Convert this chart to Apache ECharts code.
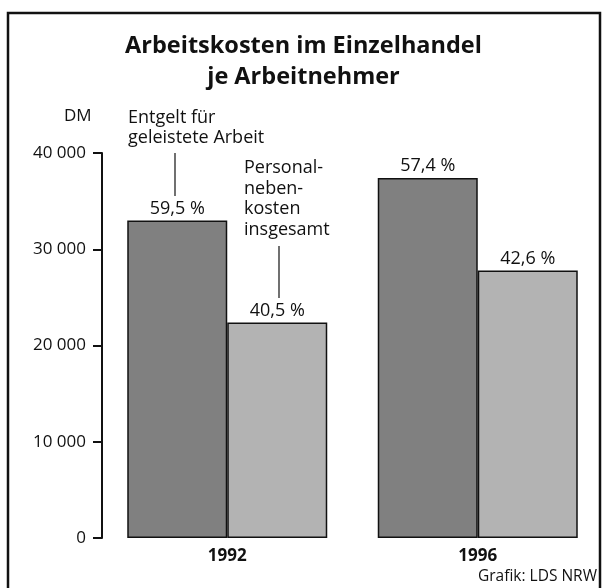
<!DOCTYPE html>
<html>
<head>
<meta charset="utf-8">
<script src="https://cdn.jsdelivr.net/npm/echarts@6/dist/echarts.min.js"></script>
<style>
  html, body { margin: 0; padding: 0; background: #fff; }
  #chart { width: 607px; height: 588px; }
</style>
</head>
<body>
<div id="chart"></div>
<script>
var years = ['1992', '1996'];
var entgelt = [33000, 37400];
var nebenkosten = [22400, 27800];
var entgeltPct = ['59,5 %', '57,4 %'];
var nebenPct = ['40,5 %', '42,6 %'];
var yTicks = [0, 10000, 20000, 30000, 40000];

var font = 'Open Sans';
var chart = echarts.init(document.getElementById('chart'), null, { renderer: 'canvas' });

function fmt(v) {
  return String(v).replace(/\B(?=(\d{3})+(?!\d))/g, ' ');
}

chart.setOption({
  animation: false,
  textStyle: { fontFamily: font, color: '#111' },
  title: {
    text: 'Arbeitskosten im Einzelhandel\nje Arbeitnehmer',
    left: 'center',
    top: 26,
    textStyle: { fontFamily: font, fontSize: 23.5, fontWeight: 'bold', color: '#111', lineHeight: 31, align: 'center' }
  },
  grid: { left: 102, right: 4, top: 153, bottom: 50 },
  xAxis: {
    type: 'category',
    data: years,
    axisLine: { show: false },
    axisTick: { show: false },
    axisLabel: { color: '#111', fontSize: 17, fontWeight: 'bold', margin: 10 }
  },
  yAxis: {
    type: 'value',
    min: yTicks[0],
    max: yTicks[yTicks.length - 1],
    interval: 10000,
    axisLine: { show: true, lineStyle: { color: '#111', width: 2 } },
    axisTick: { show: true, length: 9, lineStyle: { color: '#111', width: 2 } },
    axisLabel: { color: '#111', fontSize: 17, margin: 16, formatter: fmt },
    splitLine: { show: false }
  },
  series: [
    {
      type: 'bar',
      data: entgelt,
      barWidth: 100,
      barGap: '0%',
      itemStyle: { color: '#808080', borderColor: '#111', borderWidth: 1.5 },
      label: {
        show: true, position: 'top', distance: 3, fontSize: 18, color: '#111',
        formatter: function (p) { return entgeltPct[p.dataIndex]; }
      }
    },
    {
      type: 'bar',
      data: nebenkosten,
      barWidth: 100,
      itemStyle: { color: '#b3b3b3', borderColor: '#111', borderWidth: 1.5 },
      label: {
        show: true, position: 'top', distance: 3, fontSize: 18, color: '#111',
        formatter: function (p) { return nebenPct[p.dataIndex]; }
      }
    }
  ],
  graphic: [
    { type: 'rect', shape: { x: 8, y: 13, width: 592, height: 590 },
      style: { fill: 'none', stroke: '#111', lineWidth: 2.5 }, silent: true },
    { type: 'text', left: 64, top: 108,
      style: { text: 'DM', font: '17px "Open Sans"', fill: '#111' } },
    { type: 'text', left: 128, top: 108,
      style: { text: 'Entgelt für\ngeleistete Arbeit', font: '18px "Open Sans"', fill: '#111', lineHeight: 20 } },
    { type: 'line', shape: { x1: 175, y1: 153, x2: 175, y2: 196 },
      style: { stroke: '#111', lineWidth: 1.2 } },
    { type: 'text', left: 244, top: 158,
      style: { text: 'Personal-\nneben-\nkosten\ninsgesamt', font: '18px "Open Sans"', fill: '#111', lineHeight: 20.5 } },
    { type: 'line', shape: { x1: 279, y1: 246, x2: 279, y2: 298 },
      style: { stroke: '#111', lineWidth: 1.2 } },
    { type: 'text', right: 10, top: 569,
      style: { text: 'Grafik: LDS NRW', font: '15.5px "Open Sans"', fill: '#111' } }
  ]
});
</script>
</body>
</html>
